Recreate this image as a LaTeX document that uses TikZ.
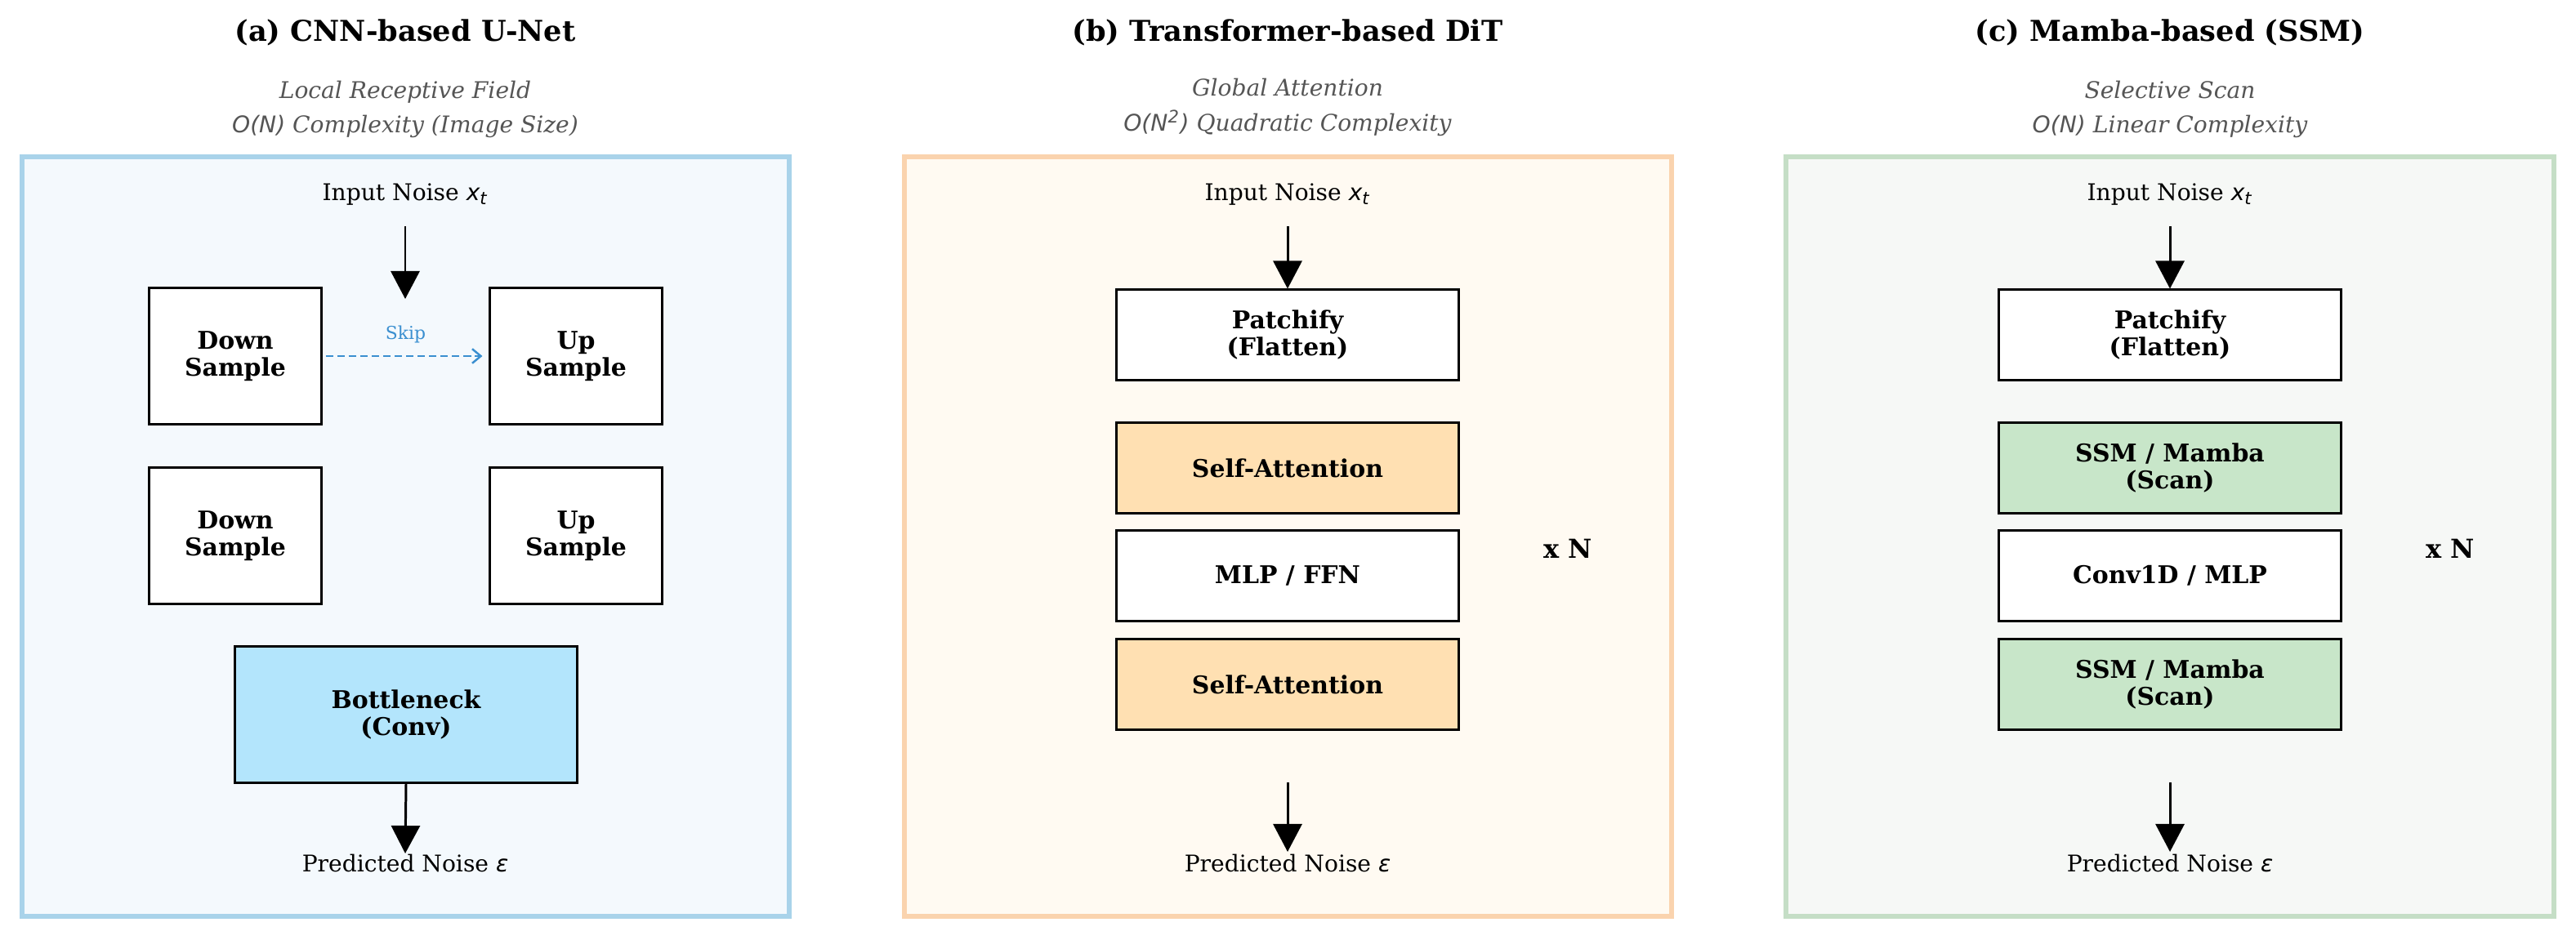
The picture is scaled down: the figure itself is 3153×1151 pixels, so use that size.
\documentclass[tikz,border=0pt]{standalone}
\usepackage{fontspec}
\setmainfont{DejaVu Serif}
\newfontfamily\dvs{DejaVu Sans}
\usetikzlibrary{arrows.meta,positioning}
\definecolor{aedge}{HTML}{A9D3EA}
\definecolor{afill}{HTML}{F4F9FD}
\definecolor{neck}{HTML}{B3E5FC}
\definecolor{bedge}{HTML}{FAD3AE}
\definecolor{bfill}{HTML}{FFFAF2}
\definecolor{attn}{HTML}{FFE0B2}
\definecolor{cedge}{HTML}{C5DEC6}
\definecolor{cfill}{HTML}{F6F8F6}
\definecolor{ssm}{HTML}{C8E6C9}
\definecolor{skipc}{HTML}{3A8FD0}
\definecolor{subc}{HTML}{555555}
\newcommand{\xt}{{\dvs\itshape x\textsubscript{t}}}
\newcommand{\eps}{{\dvs\itshape ε}}
\begin{document}
\begin{tikzpicture}[x=0.01cm,y=-0.01cm,
  panel/.style={line width=1.7pt},
  blk/.style={draw=black,line width=0.85pt,fill=white,align=center,inner sep=0pt,
    font=\bfseries\fontsize{8.5}{9.4}\selectfont},
  small/.style={blk,minimum width=2.1cm,minimum height=1.66cm},
  wide/.style={blk,minimum width=4.19cm,minimum height=1.1cm},
  title/.style={font=\bfseries\fontsize{10}{12}\selectfont,anchor=base},
  sub/.style={font=\itshape\fontsize{8}{9.6}\selectfont,text=subc,anchor=base},
  io/.style={font=\fontsize{8}{9.6}\selectfont,anchor=base},
  rep/.style={font=\bfseries\fontsize{9.1}{11}\selectfont},
  flow/.style={line width=0.85pt,-{Triangle[length=0.34cm,width=0.35cm]}},
  skipline/.style={draw=skipc,line width=0.7pt,dash pattern=on 2.6pt off 1.4pt,
    -{Straight Barb[length=3pt,width=5pt]},shorten >=0.08cm,shorten <=0.04cm}]
\useasboundingbox (0,0) rectangle (3153,1151);
% panel frames
\draw[panel,draw=aedge,fill=afill] (27,192) rectangle (966,1122);
\draw[panel,draw=bedge,fill=bfill] (1107,192) rectangle (2046,1122);
\draw[panel,draw=cedge,fill=cfill] (2186,192) rectangle (3126,1122);
% (a) CNN-based U-Net
\node[title] (a-title) at (496,50) {(a) CNN-based U-Net};
\node[sub] (a-sub1) at (496,120) {Local Receptive Field};
\node[sub] (a-sub2) at (496,162) {{\dvs O(N)} Complexity (Image Size)};
\node[io] (a-input) at (496,245) {Input Noise \xt};
\node[small] (a-down1) at (288,436) {Down\\Sample};
\node[small] (a-up1) at (705,436) {Up\\Sample};
\node[small] (a-down2) at (288,656) {Down\\Sample};
\node[small] (a-up2) at (705,656) {Up\\Sample};
\node[blk,fill=neck,minimum width=4.18cm,minimum height=1.67cm] (a-neck) at (497,875) {Bottleneck\\(Conv)};
\node[io] (a-output) at (496,1067) {Predicted Noise \eps};
\coordinate (a-in) at (496,277);
\coordinate (a-to) at (496,366);
\coordinate (a-out) at (496,1045);
\draw[flow] (a-in) -- (a-to);
\draw[skipline] (a-down1.east) -- (a-up1.west)
  node[midway,above=1pt,text=skipc,font=\fontsize{6.2}{7}\selectfont] (a-skip) {Skip};
\draw[flow] (a-neck.south) -- (a-out);
% (b) Transformer-based DiT
\node[title] (b-title) at (1576,50) {(b) Transformer-based DiT};
\node[sub] (b-sub1) at (1576,117) {Global Attention};
\node[sub] (b-sub2) at (1576,160) {{\dvs O(N\textsuperscript{2})} Quadratic Complexity};
\node[io] (b-input) at (1576,245) {Input Noise \xt};
\node[wide] (b-patch) at (1576,410) {Patchify\\(Flatten)};
\node[wide,fill=attn] (b-attn1) at (1576,573) {Self-Attention};
\node[wide] (b-mlp) at (1576,705) {MLP / FFN};
\node[wide,fill=attn] (b-attn2) at (1576,838) {Self-Attention};
\node[rep] (b-rep) at (1919,672) {x N};
\node[io] (b-output) at (1576,1067) {Predicted Noise \eps};
\coordinate (b-in) at (1576,277);
\coordinate (b-o1) at (1576,958);
\coordinate (b-o2) at (1576,1043);
\draw[flow] (b-in) -- (b-patch.north);
\draw[flow] (b-o1) -- (b-o2);
% (c) Mamba-based (SSM)
\node[title] (c-title) at (2656,50) {(c) Mamba-based (SSM)};
\node[sub] (c-sub1) at (2656,120) {Selective Scan};
\node[sub] (c-sub2) at (2656,162) {{\dvs O(N)} Linear Complexity};
\node[io] (c-input) at (2656,245) {Input Noise \xt};
\node[wide] (c-patch) at (2656,410) {Patchify\\(Flatten)};
\node[wide,fill=ssm] (c-ssm1) at (2656,573) {SSM / Mamba\\(Scan)};
\node[wide] (c-conv) at (2656,705) {Conv1D / MLP};
\node[wide,fill=ssm] (c-ssm2) at (2656,838) {SSM / Mamba\\(Scan)};
\node[rep] (c-rep) at (2999,672) {x N};
\node[io] (c-output) at (2656,1067) {Predicted Noise \eps};
\coordinate (c-in) at (2656,277);
\coordinate (c-o1) at (2656,958);
\coordinate (c-o2) at (2656,1043);
\draw[flow] (c-in) -- (c-patch.north);
\draw[flow] (c-o1) -- (c-o2);
\end{tikzpicture}
\end{document}
